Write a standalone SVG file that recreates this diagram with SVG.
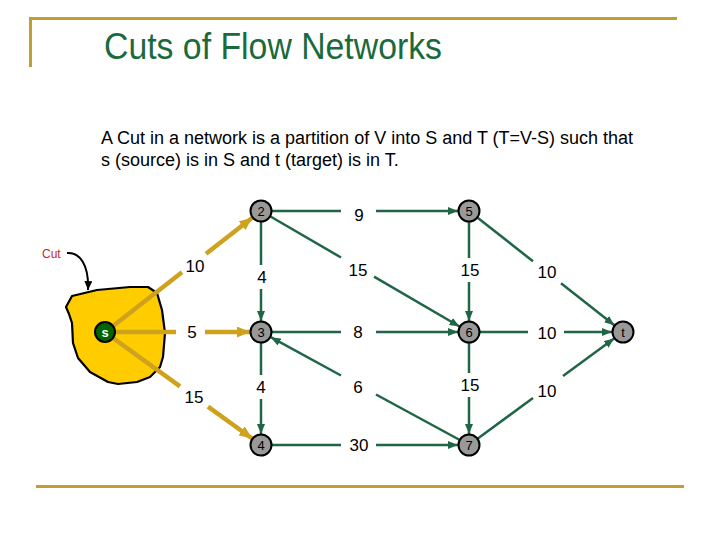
<svg xmlns="http://www.w3.org/2000/svg" width="720" height="540" viewBox="0 0 720 540">
<defs>
<marker id="ag" markerUnits="userSpaceOnUse" markerWidth="10" markerHeight="8" refX="10" refY="4" orient="auto"><path d="M0,0 L10,4 L0,8 z" fill="#1f6646"/></marker>
<marker id="ay" markerUnits="userSpaceOnUse" markerWidth="13" markerHeight="11" refX="13" refY="5.5" orient="auto"><path d="M0,0 L13,5.5 L0,11 z" fill="#cfa21e"/></marker>
<marker id="ak" markerUnits="userSpaceOnUse" markerWidth="9" markerHeight="8" refX="9" refY="4" orient="auto"><path d="M0,0 L9,4 L0,8 z" fill="#000"/></marker>
</defs>
<style>
.frame{stroke:#bf9f2f;stroke-width:3;fill:none}
.g{stroke:#1f6646;stroke-width:2.5;fill:none}
.ga{stroke:#1f6646;stroke-width:2.5;fill:none;marker-end:url(#ag)}
.y{stroke:#cfa21e;stroke-width:4.5;fill:none}
.ya{stroke:#cfa21e;stroke-width:4.5;fill:none;marker-end:url(#ay)}
.lbl{font-family:"Liberation Sans",Arial,sans-serif;font-size:17px;fill:#000;text-anchor:middle}
.node circle{fill:#999;stroke:#000;stroke-width:2}
.node text{font-family:"Liberation Sans",Arial,sans-serif;font-size:13px;fill:#000;text-anchor:middle}
</style>
<rect width="720" height="540" fill="#fff"/>
<path class="frame" d="M30.5,67 V18.5 H677"/>
<path class="frame" d="M36,486.5 H684"/>
<text x="104" y="59" font-family="Liberation Sans,Arial,sans-serif" font-size="36" fill="#1b6a3c" textLength="338" lengthAdjust="spacingAndGlyphs">Cuts of Flow Networks</text>
<text font-family="Liberation Sans,Arial,sans-serif" font-size="18" fill="#000"><tspan x="101" y="144">A Cut in a network is a partition of V into S and T (T=V-S) such that</tspan><tspan x="101" y="166">s (source) is in S and t (target) is in T.</tspan></text>

<g id="cut">
<path d="M66,307 L72,296 L97,290 L130,287 L148,287 L157,293 L162,310 L165,333 L163,357 L160,367 L150,377 L137,382 L118,384 L108,382 L90,372 L78,358 L73,343 L72,323 L69,314 Z" fill="#ffcc00" stroke="#000" stroke-width="2.2" stroke-linejoin="round"/>
<text x="42" y="258" font-family="Liberation Sans,Arial,sans-serif" font-size="12" fill="#c0282d">Cut</text>
<path d="M67,253 C80,252 89,265 88,290" stroke="#000" stroke-width="2" fill="none" marker-end="url(#ak)"/>
</g>

<g id="connectors">
<path class="y" d="M113,326 L182,272.3"/><path class="ya" d="M206,253.7 L252.3,217.7"/>
<path class="y" d="M114,332 L176,332"/><path class="ya" d="M205,332 L250,332"/>
<path class="y" d="M113,338 L180,386.3"/><path class="ya" d="M208,406.6 L252.1,438.5"/>

<path class="g" d="M271,211 L341,211"/><path class="ga" d="M376,211 L458,211"/>
<path class="g" d="M261,222 L261,265"/><path class="ga" d="M261,289 L261,321"/>
<path class="g" d="M261,343 L261,375"/><path class="ga" d="M261,399 L261,434"/>
<path class="g" d="M469,222 L469,258"/><path class="ga" d="M469,282 L469,321"/>
<path class="g" d="M469,343 L469,373"/><path class="ga" d="M469,397 L469,434"/>
<path class="g" d="M271,332 L341,332"/><path class="ga" d="M376,332 L458,332"/>
<path class="g" d="M271,445 L341,445"/><path class="ga" d="M376,445 L458,445"/>
<path class="g" d="M479,332 L528,332"/><path class="ga" d="M564,332 L612,332"/>
<path class="g" d="M270.5,216.5 L341,257.5"/><path class="ga" d="M374,276.7 L459.5,326.5"/>
<path class="g" d="M459.8,440 L376,394.5"/><path class="ga" d="M341,375.5 L270.7,337.2"/>
<path class="g" d="M477.3,217.5 L533,261.3"/><path class="ga" d="M561,283.3 L614.4,325.2"/>
<path class="g" d="M477.5,438.8 L533,398"/><path class="ga" d="M563,376 L614.1,338.5"/>

<text class="lbl" x="195" y="272">10</text>
<text class="lbl" x="192" y="338">5</text>
<text class="lbl" x="194" y="403">15</text>
<text class="lbl" x="262" y="283">4</text>
<text class="lbl" x="261" y="393">4</text>
<text class="lbl" x="359" y="221">9</text>
<text class="lbl" x="358" y="276">15</text>
<text class="lbl" x="358" y="338">8</text>
<text class="lbl" x="358" y="393">6</text>
<text class="lbl" x="359" y="451">30</text>
<text class="lbl" x="470" y="276">15</text>
<text class="lbl" x="470" y="391">15</text>
<text class="lbl" x="547" y="278">10</text>
<text class="lbl" x="547" y="339">10</text>
<text class="lbl" x="547" y="397">10</text>
</g>

<g id="s" class="node"><circle cx="105" cy="332" r="10" style="fill:#006400"/><text x="105" y="337" style="fill:#fff;font-weight:bold">s</text></g>
<g id="n2" class="node"><circle cx="261" cy="211" r="10.5"/><text x="261" y="216">2</text></g>
<g id="n5" class="node"><circle cx="469" cy="211" r="10.5"/><text x="469" y="216">5</text></g>
<g id="n3" class="node"><circle cx="261" cy="332" r="10.5"/><text x="261" y="337">3</text></g>
<g id="n6" class="node"><circle cx="469" cy="332" r="10.5"/><text x="469" y="337">6</text></g>
<g id="n4" class="node"><circle cx="261" cy="445" r="10.5"/><text x="261" y="450">4</text></g>
<g id="n7" class="node"><circle cx="469" cy="445" r="10.5"/><text x="469" y="450">7</text></g>
<g id="t" class="node"><circle cx="623" cy="332" r="10.5"/><text x="623" y="337">t</text></g>
</svg>
